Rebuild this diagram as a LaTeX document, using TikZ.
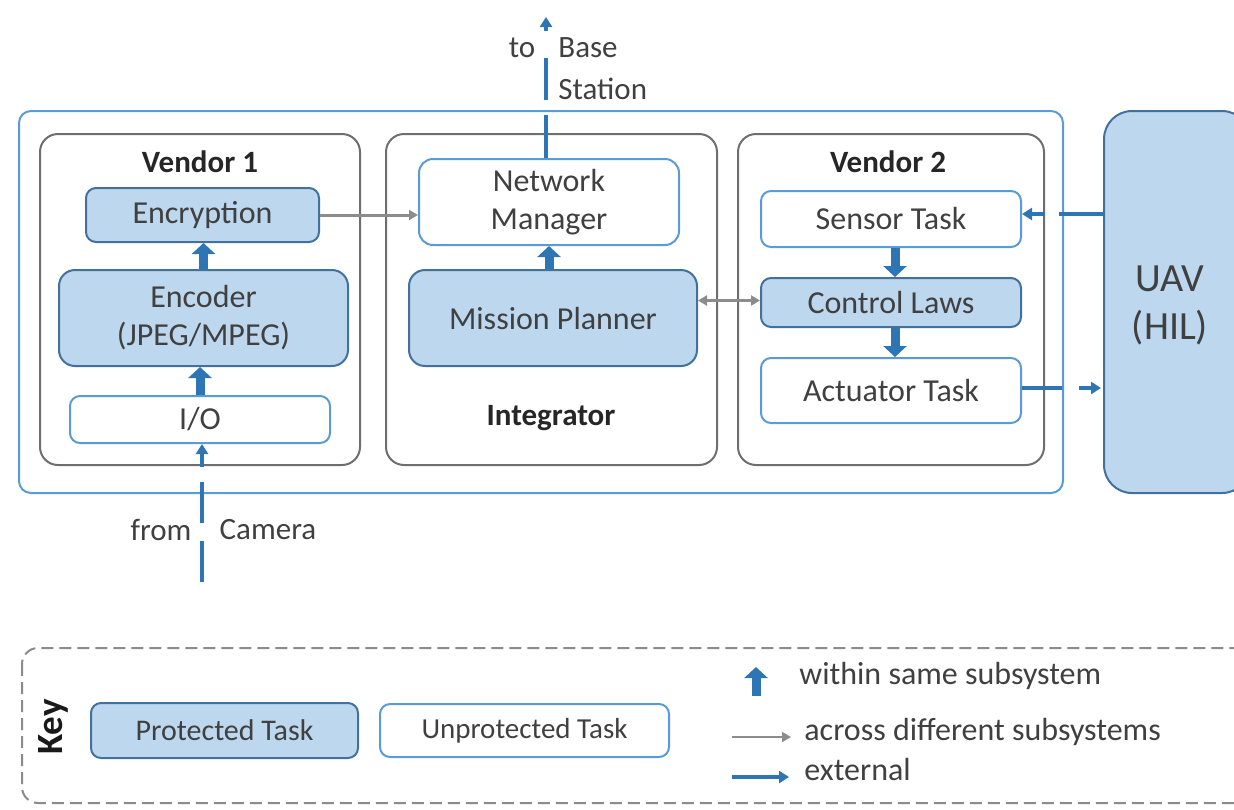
\documentclass[tikz,border=0pt]{standalone}
\usepackage{fontspec}
\setmainfont{Carlito}
\usetikzlibrary{arrows.meta,calc}
\definecolor{protfill}{RGB}{189,215,238}
\definecolor{protdraw}{RGB}{65,113,156}
\definecolor{unprotdraw}{RGB}{91,155,213}
\definecolor{arrowblue}{RGB}{46,117,182}
\definecolor{graybox}{RGB}{110,110,110}
\definecolor{textgray}{RGB}{64,64,64}
\definecolor{arrowgray}{RGB}{140,140,140}
\tikzset{
  outerbox/.style={draw=unprotdraw, line width=1pt, rounded corners=6pt, inner sep=0pt},
  subsys/.style={draw=graybox, line width=1pt, rounded corners=9pt, inner sep=0pt},
  prot/.style={draw=protdraw, fill=protfill, line width=1pt, rounded corners=5pt, text=textgray, font=\fontsize{16}{19}\selectfont, align=center, inner sep=0pt},
  unprot/.style={draw=unprotdraw, fill=white, line width=1pt, rounded corners=5pt, text=textgray, font=\fontsize{16}{19}\selectfont, align=center, inner sep=0pt},
  title/.style={font=\fontsize{15.5}{18}\selectfont\bfseries, text=black!85},
  lbl/.style={font=\fontsize{15.5}{18}\selectfont, text=textgray, inner sep=0pt},
  keytxt/.style={font=\fontsize{16}{19}\selectfont, text=textgray, inner sep=0pt, anchor=west},
  thickarrow/.style={draw=arrowblue, line width=4.5pt, -{Triangle[width=11.5pt,length=5.5pt]}},
  grayarrow/.style={draw=arrowgray, line width=1.5pt, -{Triangle[width=5pt,length=4.5pt]}},
  grayboth/.style={draw=arrowgray, line width=1.5pt, {Triangle[width=5pt,length=4.5pt]}-{Triangle[width=5pt,length=4.5pt]}},
  extarrow/.style={draw=arrowblue, line width=2pt, -{Triangle[width=6pt,length=5pt]}},
}
\begin{document}
\begin{tikzpicture}[x=0.5pt,y=-0.5pt]
\useasboundingbox (0,0) rectangle (1234,809);
% containers
\node[outerbox, minimum width=522pt, minimum height=191pt] (outer) at (541,302) {};
\node[subsys, minimum width=160pt, minimum height=165.5pt] (v1) at (200,299.5) {};
\node[subsys, minimum width=165.5pt, minimum height=165.5pt] (integ) at (551.5,299.5) {};
\node[subsys, minimum width=153pt, minimum height=165.5pt] (v2) at (891,299.5) {};
\node[draw=protdraw, fill=protfill, line width=1pt, rounded corners=14pt, minimum width=73pt, minimum height=191pt, inner sep=0pt] (uav) at (1177,302) {};
\node[font=\fontsize{20}{24}\selectfont, text=textgray, align=center] (uavtxt) at (1170,305) {UAV\\(HIL)};
% titles
\node[title] (t1) at (200,162) {Vendor 1};
\node[title] (t2) at (888,162) {Vendor 2};
\node[title] (t3) at (551,418) {Integrator};
% tasks
\node[prot, minimum width=116.5pt, minimum height=27pt] (enc) at (202.5,215) {Encryption};
\node[prot, rounded corners=8pt, minimum width=144.5pt, minimum height=48pt] (encoder) at (203.5,318) {Encoder\\(JPEG/MPEG)};
\node[unprot, minimum width=130pt, minimum height=23.5pt] (io) at (200,419.5) {I/O};
\node[unprot, rounded corners=7pt, minimum width=130pt, minimum height=43pt] (nm) at (549,202) {Network\\Manager};
\node[prot, rounded corners=8pt, minimum width=144pt, minimum height=48pt] (mp) at (553,318) {Mission Planner};
\node[unprot, minimum width=130pt, minimum height=28pt] (sensor) at (891,219) {Sensor Task};
\node[prot, minimum width=130pt, minimum height=24.5pt] (control) at (891,302.5) {Control Laws};
\node[unprot, minimum width=130pt, minimum height=32.5pt] (act) at (891,390.5) {Actuator Task};
% within-subsystem arrows
\draw[thickarrow] (encoder.north) -- (encoder.north |- enc.south);
\draw[thickarrow] (io.north) -- (io.north |- encoder.south);
\draw[thickarrow] (nm.south |- mp.north) -- (nm.south);
\draw[thickarrow] ([xshift=2pt]sensor.south) -- ([xshift=2pt]control.north);
\draw[thickarrow] ([xshift=2pt]control.south) -- ([xshift=2pt]act.north);
% across
\draw[grayarrow] (enc.east) -- (enc.east -| nm.west);
\draw[grayboth] ([yshift=1pt]control.west -| mp.east) -- ([yshift=1pt]control.west);
% external
\coordinate (cam) at (202,582);
\draw[extarrow, dash pattern=on 20.5pt off 9pt on 20.5pt off 7.5pt on 60pt] (cam) -- (cam |- io.south);
\coordinate (base) at (546,17);
\draw[extarrow, dash pattern=on 21.5pt off 7.5pt on 21pt off 13.5pt on 60pt] (base |- nm.north) -- (base);
\coordinate (uavin) at (1104,214);
\draw[extarrow, dash pattern=on 22.5pt off 7pt on 60pt] (uavin) -- (uavin -| sensor.east);
\coordinate (uavout) at (1101,388);
\draw[extarrow, dash pattern=on 20pt off 8.5pt on 60pt] (act.east |- uavout) -- (uavout);
\node[lbl] (to) at (522,48) {to};
\node[lbl, anchor=west] (basetxt) at (558,48) {Base};
\node[lbl, anchor=west] (station) at (558,89) {Station};
\node[lbl] (from) at (161,530) {from};
\node[lbl] (camera) at (268,530) {Camera};
% key
\draw[draw=graybox!80, line width=1pt, dash pattern=on 6pt off 3pt, rounded corners=8pt] (22,648) rectangle (1260,803);
\node[font=\fontsize{18.5}{21}\selectfont\bfseries, rotate=90, text=black!90] (key) at (53,727) {Key};
\node[prot, font=\fontsize{15}{18}\selectfont, minimum width=133.5pt, minimum height=27.5pt] (kprot) at (224.5,730.5) {Protected Task};
\node[unprot, font=\fontsize{14.5}{17}\selectfont, minimum width=144.5pt, minimum height=26.5pt] (kunprot) at (524.5,730.5) {Unprotected Task};
\coordinate (k1a) at (756,696);
\coordinate (k1b) at (756,667);
\draw[thickarrow] (k1a) -- (k1b);
\node[keytxt] (k1t) at (799,676) {within same subsystem};
\coordinate (k2a) at (732,737);
\coordinate (k2b) at (791,737);
\draw[grayarrow, line width=1pt] (k2a) -- (k2b);
\node[keytxt] (k2t) at (804,732) {across different subsystems};
\coordinate (k3a) at (732,777);
\coordinate (k3b) at (789,777);
\draw[extarrow] (k3a) -- (k3b);
\node[keytxt] (k3t) at (804,769) {external};
\end{tikzpicture}
\end{document}
